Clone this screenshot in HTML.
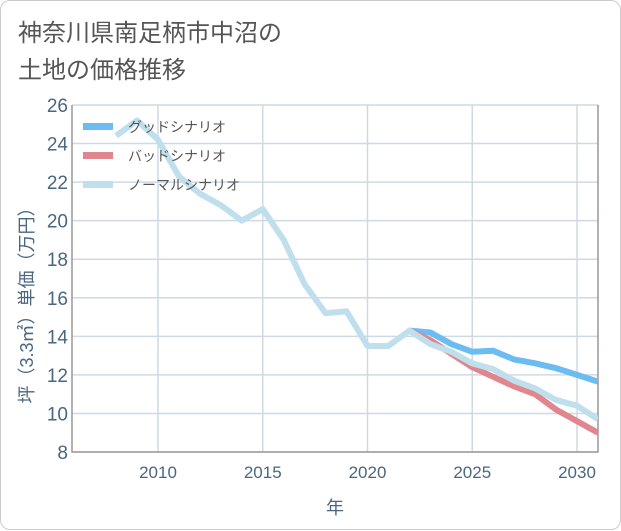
<!DOCTYPE html>
<html><head><meta charset="utf-8"><style>
body{margin:0;background:#fff;}
#card{position:absolute;left:0;top:0;width:619px;height:528px;border:1px solid #ccc;border-radius:10px;background:#fff;}
#title{position:absolute;left:17px;top:14px;font:24px "Liberation Sans","Noto Sans CJK JP",sans-serif;color:#555;line-height:37px;}
svg{position:absolute;left:0;top:0;}
text{font-family:"Liberation Sans","Noto Sans CJK JP",sans-serif;}
</style></head><body>
<div id="card">
<div id="title">神奈川県南足柄市中沼の<br>土地の価格推移</div>
<svg id="chart" width="621" height="530"></svg>
</div>
<script>
const years=[2008,2009,2010,2011,2012,2013,2014,2015,2016,2017,2018,2019,2020,2021,2022,2023,2024,2025,2026,2027,2028,2029,2030,2031];
const normal=[24.4,25.2,24.2,22.3,21.4,20.8,20.0,20.6,19.0,16.7,15.2,15.3,13.5,13.5,14.3,13.6,13.2,12.6,12.3,11.7,11.3,10.7,10.4,9.7];
const fYears=[2022,2023,2024,2025,2026,2027,2028,2029,2030,2031];
const good=[14.3,14.2,13.6,13.2,13.25,12.8,12.6,12.35,12.0,11.65];
const bad=[14.3,13.8,13.1,12.4,11.9,11.4,11.0,10.2,9.6,9.0];
const yTicks=[8,10,12,14,16,18,20,22,24,26];
const xTicks=[2010,2015,2020,2025,2030];
const NS='http://www.w3.org/2000/svg';
const svg=document.getElementById('chart');
const L=71,R=597,T=104,B=451;
const x=v=>157+(v-2010)*20.95;
const y=v=>B-(v-8)/(18)*(B-T);
function mk(t,a){const e=document.createElementNS(NS,t);for(const k in a)e.setAttribute(k,a[k]);svg.appendChild(e);return e;}
const defs=mk('clipPath',{id:'clip'});
const cr=document.createElementNS(NS,'rect');cr.setAttribute('x',L);cr.setAttribute('y',T-5);cr.setAttribute('width',R-L);cr.setAttribute('height',B-T+5);defs.appendChild(cr);
yTicks.forEach(v=>{
 const g=mk('line',{x1:L,x2:R,y1:y(v),y2:y(v),stroke:'#cfd9e3','stroke-width':1.5});
 
 
 const t=mk('text',{x:L-4,y:y(v)+7,'text-anchor':'end','font-size':19,fill:'#4a6680'});
 t.textContent=v;
 
 
});
xTicks.forEach(v=>{
 const g=mk('line',{x1:x(v),x2:x(v),y1:T,y2:B,stroke:'#cfd9e3','stroke-width':1.5});
 
 
 const t=mk('text',{x:x(v),y:B+26,'text-anchor':'middle','font-size':17,fill:'#4a6680'});
 t.textContent=v;
 
 
});
const ax=mk('path',{d:`M${L},${T} V${B} H${R} V${T}`,fill:'none',stroke:'#999','stroke-width':1.5});


function line(xs,vs,c,name){
 const p=mk('path',{d:xs.map((v,i)=>(i?'L':'M')+x(v)+','+y(vs[i])).join(' '),fill:'none',stroke:c,'stroke-width':6,'stroke-linejoin':'round','clip-path':'url(#clip)'});
 
 
}
line(fYears,good,'#6bbcf2','good-scenario-line');
line(fYears,bad,'#e0868e','bad-scenario-line');
line(years,normal,'#bfdfec','normal-scenario-line');
const leg=[['グッドシナリオ','#6bbcf2'],['バッドシナリオ','#e0868e'],['ノーマルシナリオ','#bfdfec']];
leg.forEach((l,i)=>{
 const yy=126+i*29;
 const r=mk('rect',{x:82,y:yy-4,width:30,height:7,fill:l[1]});
 
 
 const t=mk('text',{x:127,y:yy+5,'font-size':14,fill:'#555'});
 t.textContent=l[0];
 
 
});
const xt=mk('text',{x:334,y:513,'text-anchor':'middle','font-size':18,fill:'#4a6680'});
xt.textContent='年';


const yt=mk('text',{x:0,y:0,'text-anchor':'middle','font-size':18,fill:'#4a6680',transform:'translate(32,300) rotate(-90)'});
yt.textContent='坪（3.3㎡）単価（万円）';


</script>
</body></html>
